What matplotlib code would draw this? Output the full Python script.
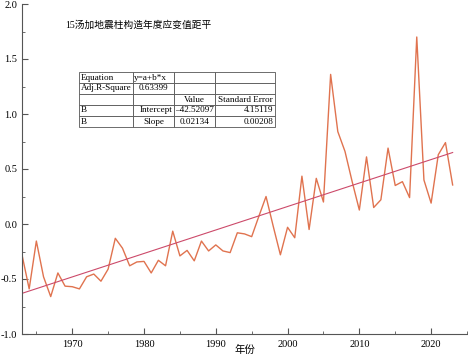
import numpy as np
import matplotlib
matplotlib.use("Agg")
import matplotlib.pyplot as plt
from matplotlib.ticker import MultipleLocator

plt.rcParams['font.family'] = ['Liberation Serif', 'Noto Sans CJK SC']
plt.rcParams['axes.unicode_minus'] = True

# -------- DATA --------
years = np.arange(1963, 2024)
anomaly = [
    -0.28, -0.59, -0.155, -0.48, -0.66, -0.445, -0.565, -0.57, -0.59, -0.48,
    -0.455, -0.52, -0.41, -0.13, -0.22, -0.38, -0.345, -0.34, -0.445, -0.33,
    -0.38, -0.065, -0.29, -0.24, -0.335, -0.155, -0.245, -0.19, -0.245, -0.26,
    -0.08, -0.09, -0.115, 0.07, 0.25, -0.02, -0.28, -0.03, -0.125, 0.435,
    -0.05, 0.415, 0.20, 1.36, 0.84, 0.66, 0.385, 0.127, 0.61, 0.15,
    0.22, 0.69, 0.35, 0.385, 0.24, 1.70, 0.40, 0.19, 0.63, 0.74,
    0.355,
]
intercept = -42.52097
slope = 0.02134
intercept_se = 4.15119
slope_se = 0.00208
adj_r2 = 0.63399

fit = intercept + slope * years

# -------- PLOT --------
fig = plt.figure(figsize=(4.68, 3.55), dpi=100)
ax = fig.add_axes([22 / 468, 21 / 355, 445 / 468, 330 / 355])

ax.plot(years, anomaly, color="#E0734F", lw=1.0)
ax.plot(years, fit, color="#CC4A6A", lw=0.8)

ax.set_xlim(1963, 2025)
ax.set_ylim(-1.0, 2.0)
ax.xaxis.set_major_locator(MultipleLocator(10))
ax.xaxis.set_minor_locator(MultipleLocator(5))
ax.yaxis.set_major_locator(MultipleLocator(0.5))
ax.yaxis.set_minor_locator(MultipleLocator(0.25))
ax.yaxis.set_major_formatter(matplotlib.ticker.FormatStrFormatter("%.1f"))
ax.tick_params(which="both", direction="in", labelsize=7.5, color="#555555")
ax.tick_params(axis="x", pad=4)
ax.tick_params(which="major", length=4)
ax.tick_params(which="minor", length=2.5)
ax.spines["top"].set_visible(False)
ax.spines["right"].set_visible(False)
for s in ["left", "bottom"]:
    ax.spines[s].set_color("#555555")
    ax.spines[s].set_linewidth(0.8)

# axis title sits beside the tick labels, between 1990 and 2000
fig.text(245 / 468, 5 / 355, "年份", fontsize=7.5, ha="center", va="center")
ax.text(0.098, 0.936, "15汤加地震柱构造年度应变值距平", transform=ax.transAxes,
        fontsize=7, ha="left", va="center")

# -------- TABLE --------
cells = [
    ["Equation", "y=a+b*x", "", ""],
    ["Adj.R-Square", f"{adj_r2:.5f}", "", ""],
    ["", "", "Value", "Standard Error"],
    ["B", "Intercept", f"\u2013{abs(intercept):.5f}", f"{intercept_se:.5f}"],
    ["B", "Slope", f"{slope:.5f}", f"{slope_se:.5f}"],
]
aligns = [
    ["left", "left", "left", "left"],
    ["left", "center", "left", "left"],
    ["left", "left", "center", "center"],
    ["left", "right", "left", "right"],
    ["left", "center", "center", "right"],
]
tab = ax.table(cellText=cells, colWidths=[0.276, 0.209, 0.209, 0.306],
               bbox=[57 / 445, 207 / 330, 196 / 445, 55 / 330])
tab.auto_set_font_size(False)
for (r, c), cell in tab.get_celld().items():
    cell.set_fontsize(6.6)
    cell.set_edgecolor("#555555")
    cell.set_linewidth(0.6)
    cell.PAD = 0.03
    cell.get_text().set_ha(aligns[r][c])
    cell._loc = aligns[r][c]

fig.savefig("out.png", dpi=100)
